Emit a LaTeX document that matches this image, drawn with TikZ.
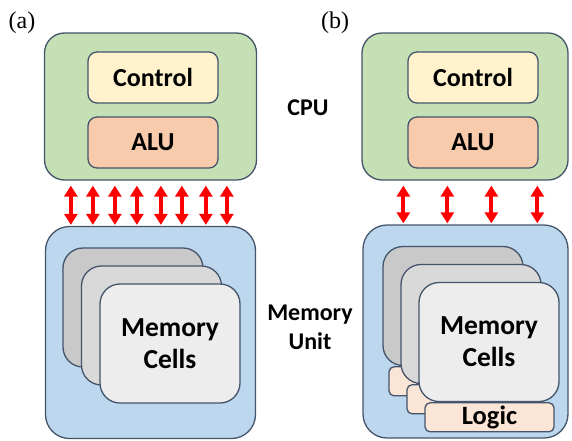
\documentclass[tikz,border=0pt]{standalone}
\usepackage{fontspec}
\setmainfont{Liberation Serif}
\setsansfont{Carlito}
\usepackage{tikz}
\usetikzlibrary{arrows.meta,calc,positioning}
\definecolor{cpugreen}{HTML}{C5E0B4}
\definecolor{ctrlyellow}{HTML}{FFF2CC}
\definecolor{alupeach}{HTML}{F8CBAD}
\definecolor{memblue}{HTML}{BDD7EE}
\definecolor{edgeslate}{HTML}{44546A}
\definecolor{cellgrayA}{HTML}{C9C9C9}
\definecolor{cellgrayB}{HTML}{D9D9D9}
\definecolor{cellgrayC}{HTML}{EDEDED}
\definecolor{logicpeach}{HTML}{FBE5D6}
\tikzset{
  cpu schemes/.style = {
    x = 1pt, y = -1pt,
    % Blocks
    unit/.style      = {draw=edgeslate, line width=1.3pt, inner sep=0pt},
    cpu box/.style   = {unit, rounded corners=20pt, fill=cpugreen,
                        minimum width=212pt, minimum height=147pt},
    mem box/.style   = {unit, rounded corners=24pt, fill=memblue,
                        minimum width=210pt, minimum height=212pt},
    part/.style      = {unit, rounded corners=9pt, minimum width=130pt,
                        minimum height=51pt, font=\sffamily\bfseries\fontsize{26}{30}\selectfont},
    ctrl/.style      = {part, fill=ctrlyellow},
    alu/.style       = {part, fill=alupeach},
    % Memory cells
    cell/.style      = {unit, rounded corners=20pt, minimum width=140pt, minimum height=119pt,
                        align=center, font=\sffamily\bfseries\fontsize{27.5}{32}\selectfont},
    logic/.style     = {unit, rounded corners=5pt, fill=logicpeach, minimum width=129pt,
                        minimum height=29pt, font=\sffamily\bfseries\fontsize{26.5}{30}\selectfont},
    % Labels, arrows
    side label/.style = {align=center, font=\sffamily\bfseries\fontsize{24}{29}\selectfont},
    tag/.style        = {font=\fontsize{24}{28}\selectfont},
    bus/.style        = {draw=red, line width=4pt,
                         {Triangle[width=13pt,length=11pt]}-{Triangle[width=13pt,length=11pt]},
                         shorten <=5pt, shorten >=1pt},
  }
}
\begin{document}
\begin{tikzpicture}[cpu schemes]
  \useasboundingbox (0,0) rectangle (572,440);

  % (a)
  \node[tag] (tagA) at (22,23) {(a)};
  \node[cpu box] (cpuA) at (150.5,106.5) {};
  \node[ctrl] (ctrlA) at (153,77.5) {Control};
  \node[alu]  (aluA)  at (153,142.5) {ALU};

  \node[mem box] (memA) at (150.5,332.5) {};
  \node[cell, fill=cellgrayA] (cellA1) at (133,307.5) {};
  \node[cell, fill=cellgrayB] (cellA2) at (151.5,325.5) {};
  \node[cell, fill=cellgrayC] (cellA3) at (170,343.5) {Memory\\Cells};

  \foreach \x in {71,93,115,137,161,182,206,227} {
    \path (cpuA.south west) ++(\x-44,0) coordinate (busTop);
    \draw[bus] (busTop) -- (busTop |- memA.north);
  }

  % labels
  \node[side label] (cpuLbl) at (308,108) {CPU};
  \node[side label] (memLbl) at (310,327.5) {Memory\\Unit};

  % (b)
  \node[tag] (tagB) at (335,23) {(b)};
  \node[cpu box, minimum width=206pt] (cpuB) at (465,106.5) {};
  \node[ctrl] (ctrlB) at (473,77.5) {Control};
  \node[alu]  (aluB)  at (473,142.5) {ALU};

  \node[mem box, minimum width=205pt, minimum height=213pt] (memB) at (465.5,331.5) {};
  \node[cell, fill=cellgrayA] (cellB1) at (453,306) {};
  \node[logic, below=0pt of cellB1, xshift=0.5pt] (logicB1) {};
  \node[cell, fill=cellgrayB] (cellB2) at (471,324) {};
  \node[logic, below=0pt of cellB2, xshift=0.5pt] (logicB2) {};
  \node[cell, fill=cellgrayC] (cellB3) at (489,342) {Memory\\Cells};
  \node[logic, below=0pt of cellB3, xshift=0.5pt] (logicB3) {Logic};

  \foreach \x in {404,448,492,538} {
    \path (cpuB.south west) ++(\x-362,0) coordinate (busTop);
    \draw[bus] (busTop) -- (busTop |- memB.north);
  }

\end{tikzpicture}
\end{document}
